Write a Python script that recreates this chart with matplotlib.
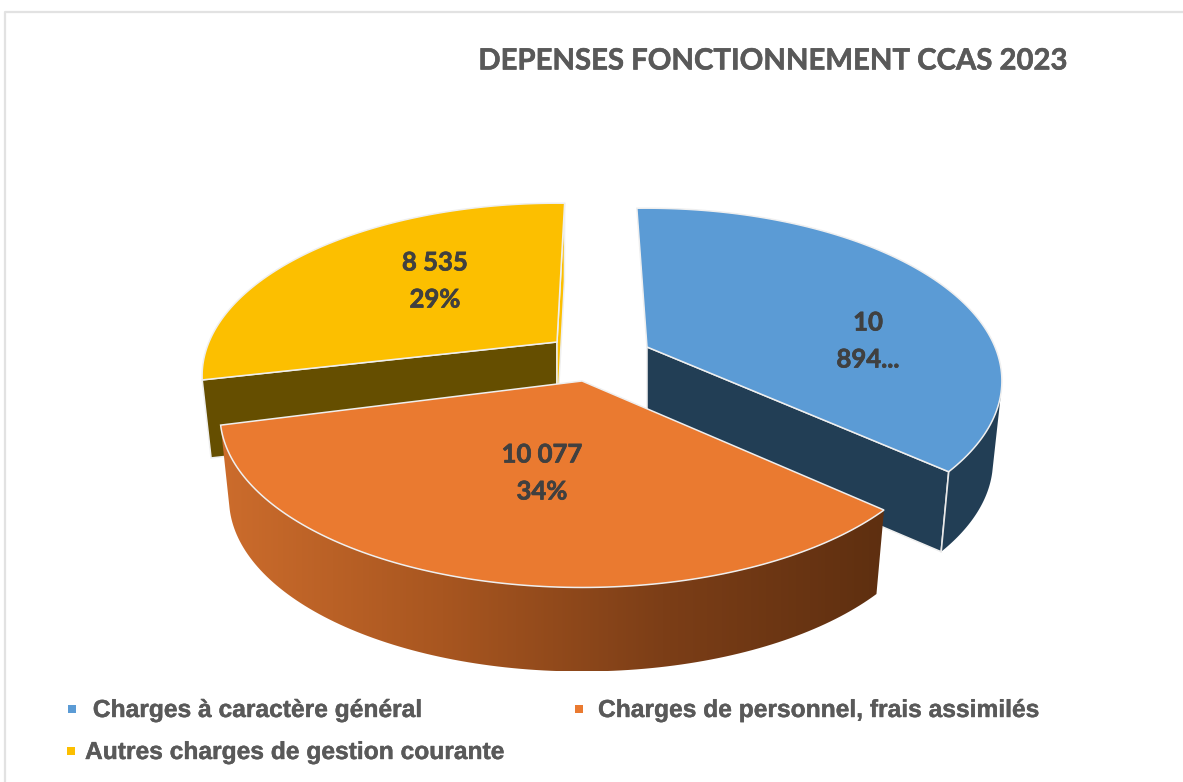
import numpy as np
import matplotlib
matplotlib.use("Agg")
import matplotlib.pyplot as plt
import matplotlib.patheffects as pe
from matplotlib.patches import Polygon, Rectangle
from matplotlib.colors import LinearSegmentedColormap

# data
categories = [" Charges à caractère général", "Charges de personnel, frais assimilés",
              "Autres charges de gestion courante"]
values = [10894, 10077, 8535]
labels = ["10\n894...", "10 077\n34%", "8 535\n29%"]
title = "DEPENSES FONCTIONNEMENT CCAS 2023"

top_colors = ["#5B9BD5", "#EA7A30", "#FCBF00"]
cut_colors = ["#223E55", "#5E2F10", "#654E00"]

# fake 3d pie layout, all in pixels
W, H = 1183, 782
CX, CY = 596, 345
B, K = 166, 0.196
SHRINK = 0.975
# per slice: tip position relative to the centre, half width, small turn in degrees, wall height
shift = [(51, 2), (-14, 36), (-39, -3)]
widths = [348, 355, 348]
turn = [-2.0, -0.5, 1.5]
depth = [80, 84, 78]

fig = plt.figure(figsize=(W / 100, H / 100), dpi=100)
ax = fig.add_axes([0, 0, 1, 1])
ax.set_xlim(0, W)
ax.set_ylim(H, 0)
ax.axis("off")


def proj(theta, r, i, low=False):
    u = r * np.sin(np.radians(theta))
    v = r * np.cos(np.radians(theta))
    w = 1 + K * v
    x = widths[i] * u / w
    y = -B * v / w
    sx, sy = shift[i]
    if low:
        return CX + sx + x * SHRINK, CY + sy + y + depth[i]
    return CX + sx + x, CY + sy + y


def arc(t0, t1, i, low=False):
    t = np.linspace(t0, t1, 120)
    x, y = proj(t, 1.0, i, low)
    return np.column_stack([x, y])


def tip(i, low=False):
    x, y = proj(0.0, 0.0, i, low)
    return np.array([[x, y]])


def poly(pts, color, z, edge="#EFEFEF", lw=1.1):
    p = Polygon(pts, closed=True, facecolor=color, edgecolor=edge, linewidth=lw, zorder=z)
    ax.add_patch(p)
    return p


def cut_face(t, i, color, z):
    poly(np.vstack([tip(i), arc(t, t, i)[:1], arc(t, t, i, True)[:1], tip(i, True)]), color, z)


fractions = np.array(values) / sum(values)
ends = np.cumsum(fractions) * 360 + np.array(turn)
starts = np.r_[0, np.cumsum(fractions)[:-1] * 360] + np.array(turn)

# yellow: cut face under the left radius, thin face at the top radius
t0, t1 = starts[2], ends[2]
cut_face(t0, 2, cut_colors[2], 1)
cut_face(t1, 2, top_colors[2], 1)
poly(np.vstack([tip(2), arc(t0, t1, 2)]), top_colors[2], 2)

# blue: cut face, outer wall, top
t0, t1 = starts[0], ends[0]
cut_face(t1, 0, cut_colors[0], 3)
poly(np.vstack([arc(105, t1, 0), arc(105, t1, 0, True)[::-1]]), cut_colors[0], 3, edge="none", lw=0)
ax.plot(*np.vstack([arc(t1, t1, 0)[:1], arc(t1, t1, 0, True)[:1]]).T, color="#E8E8E8", lw=1.2, zorder=3.5)
poly(np.vstack([tip(0), arc(t0, t1, 0)]), top_colors[0], 4)

# orange: outer wall with the left to right shading, then top
t0, t1 = starts[1], ends[1]
wall = np.vstack([arc(t0, t1, 1), arc(t0, t1, 1, True)[::-1]])
clip = poly(wall, "none", 5, edge="none", lw=0)
cmap = LinearSegmentedColormap.from_list("wall", ["#5E2F10", "#7C3E17", "#A85620", "#CC6C2C"])
x0, x1 = wall[:, 0].min(), wall[:, 0].max()
y0, y1 = wall[:, 1].min(), wall[:, 1].max()
im = ax.imshow(np.linspace(0, 1, 256)[::-1].reshape(1, -1), cmap=cmap, aspect="auto",
               extent=[x0, x1, y1, y0], zorder=5)
im.set_clip_path(clip)
ax.set_xlim(0, W)
ax.set_ylim(H, 0)
poly(np.vstack([tip(1), arc(t0, t1, 1)]), top_colors[1], 6)

# slice labels
label_pos = [(868, 341), (542, 473), (435, 281)]
for txt, (x, y) in zip(labels, label_pos):
    ax.text(x, y, txt, ha="center", va="center", fontsize=18.5, fontweight="bold",
            family="Lato", color="#404040", linespacing=1.65, zorder=8,
            path_effects=[pe.withStroke(linewidth=0.5, foreground="#404040")])

ax.text(772.5, 61.5, title, ha="center", va="center", fontsize=21.1, fontweight="bold",
        family="Lato", color="#595959",
        path_effects=[pe.withStroke(linewidth=0.4, foreground="#595959")])

# legend
legend_pos = [(72, 709, 86), (579, 709, 598), (71, 751, 85)]
for name, col, (mx, my, tx) in zip(categories, top_colors, legend_pos):
    ax.add_patch(Rectangle((mx - 4, my - 4), 8, 8, facecolor=col, edgecolor="none"))
    ax.text(tx, my + 1, name, ha="left", va="center", fontsize=17.7, fontweight="bold",
            family="Liberation Sans", color="#595959",
            path_effects=[pe.withStroke(linewidth=0.3, foreground="#595959")])

# screenshot frame
ax.plot([5.5, 5.5, W], [H, 11.5, 11.5], color="#E2E2E2", lw=1.6, zorder=0)

fig.savefig("out.png", dpi=100, facecolor="white")
